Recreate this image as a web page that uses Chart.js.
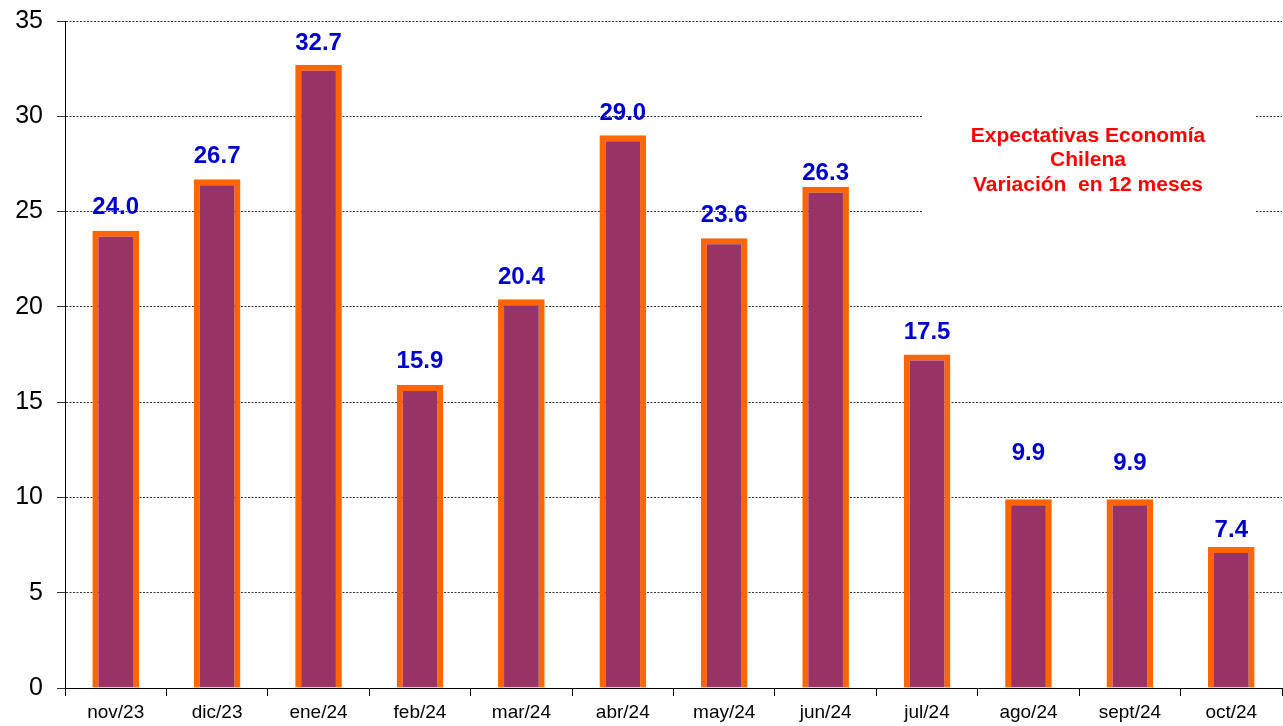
<!DOCTYPE html>
<html>
<head>
<meta charset="utf-8">
<script src="https://cdn.jsdelivr.net/npm/chart.js@4/dist/chart.umd.min.js"></script>
<style>
  html, body { margin: 0; padding: 0; background: #fff; }
  #wrap { width: 1283px; height: 726px; }
</style>
</head>
<body>
<div id="wrap"><canvas id="myChart"></canvas></div>
<script>
var months = ['nov/23', 'dic/23', 'ene/24', 'feb/24', 'mar/24', 'abr/24', 'may/24', 'jun/24', 'jul/24', 'ago/24', 'sept/24', 'oct/24'];
var values = [24.0, 26.7, 32.7, 15.9, 20.4, 29.0, 23.6, 26.3, 17.5, 9.9, 9.9, 7.4];
var titleLines = ['Expectativas Economía', 'Chilena', 'Variación  en 12 meses'];

// value labels above each bar
var valueLabels = {
    id: 'valueLabels',
    afterDatasetsDraw: function (chart) {
        var ctx = chart.ctx;
        var meta = chart.getDatasetMeta(0);
        // gap between label baseline and bar top, not the same for every bar in the original
        var gap = [15, 14, 13, 15, 13, 13, 14, 5, 14, 37, 27, 8];
        ctx.save();
        ctx.font = 'bold 24px "Liberation Sans", Arial, sans-serif';
        ctx.fillStyle = '#0000CC';
        ctx.textAlign = 'center';
        ctx.textBaseline = 'alphabetic';
        meta.data.forEach(function (bar, i) {
            ctx.fillText(values[i].toFixed(1), bar.x, bar.y - gap[i] - 2);
        });
        ctx.restore();
    }
};

// red note in the upper right corner, on a white box
var noteBox = {
    id: 'noteBox',
    beforeDatasetsDraw: function (chart) {
        var ctx = chart.ctx;
        var area = chart.chartArea;
        var cx = area.right - 194;
        ctx.save();
        ctx.fillStyle = '#fff';
        ctx.fillRect(cx - 166, area.top + 84, 333, 116);
        ctx.font = 'bold 21px "Liberation Sans", Arial, sans-serif';
        ctx.fillStyle = '#FF0000';
        ctx.textAlign = 'center';
        ctx.textBaseline = 'middle';
        titleLines.forEach(function (line, i) {
            ctx.fillText(line, cx, area.top + 115 + i * 24.5);
        });
        ctx.restore();
    }
};

var ctx = document.getElementById('myChart').getContext('2d');
var chart = new Chart(ctx, {
    type: 'bar',
    data: {
        labels: months,
        datasets: [{
            data: values,
            backgroundColor: '#993366',
            borderColor: '#FF6600',
            borderWidth: 6,
            barPercentage: 0.46,
            categoryPercentage: 1
        }]
    },
    options: {
        responsive: true,
        maintainAspectRatio: false,
        animation: false,
        layout: { padding: { top: 21, right: 1, left: 0, bottom: 0 } },
        plugins: {
            legend: { display: false },
            tooltip: { enabled: false }
        },
        scales: {
            x: {
                offset: true,
                grid: {
                    offset: true,
                    drawOnChartArea: false,
                    color: '#000',
                    tickLength: 8
                },
                border: { color: '#000', width: 1 },
                ticks: {
                    color: '#000',
                    font: { family: '"Liberation Sans", Arial, sans-serif', size: 19 },
                    padding: 5
                },
                afterFit: function (scale) { scale.height = 38; }
            },
            y: {
                min: 0,
                max: 35,
                ticks: {
                    stepSize: 5,
                    color: '#000',
                    font: { family: '"Liberation Sans", Arial, sans-serif', size: 25 },
                    padding: 14
                },
                grid: {
                    color: '#000',
                    lineWidth: 0.8,
                    tickLength: 8,
                    tickBorderDash: []
                },
                border: { color: '#000', width: 1, dash: [2, 1.5] },
                afterFit: function (scale) {
                    scale.width = 65;
                    scale.paddingTop = 0;
                    scale.paddingBottom = 0;
                }
            }
        }
    },
    plugins: [noteBox, valueLabels]
});
</script>
</body>
</html>
